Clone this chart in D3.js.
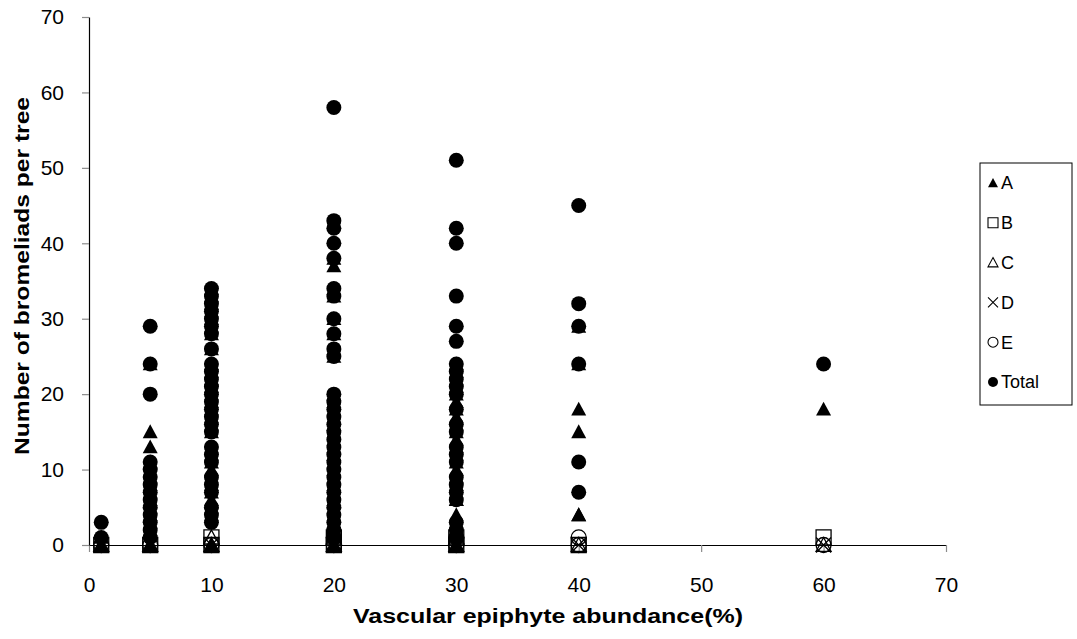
<!DOCTYPE html>
<html>
<head>
<meta charset="utf-8">
<script src="https://cdn.jsdelivr.net/npm/d3@7"></script>
<style>
  body { margin: 0; background: #fff; }
  svg { display: block; font-family: "Liberation Sans", Arial, sans-serif; }
</style>
</head>
<body>
<svg id="chart"></svg>
<script>
// abundance classes (x) and the counts per tree
var abundance = [1, 5, 10, 20, 30, 40, 60];

var totalCounts = [
  [3, 1],
  [29, 24, 20, 11, 10, 9, 8, 7, 6, 5, 4, 3, 2, 1],
  [34, 33, 32, 31, 30, 29, 28, 26, 24, 23, 22, 21, 20, 19, 18, 17, 16, 15, 13, 12, 11, 9, 8, 7, 5, 4, 3],
  [58, 43, 42, 40, 38, 34, 33, 30, 28, 26, 25, 20, 19, 18, 17, 16, 15, 14, 13, 12, 11, 10, 9, 8, 7, 6, 5, 4, 3, 2, 1],
  [51, 42, 40, 33, 29, 27, 24, 23, 22, 21, 20, 18, 16, 15, 13, 12, 11, 9, 8, 7, 6, 3, 2, 1],
  [45, 32, 29, 24, 11, 7],
  [24]
];
var countsA = [
  [0, 1],
  [15, 24, 13, 11, 7, 9, 8, 5, 6, 4, 4, 3, 2, 0],
  [34, 33, 32, 31, 30, 29, 28, 26, 24, 23, 22, 21, 20, 19, 18, 17, 16, 15, 10, 12, 11, 6, 8, 7, 5, 4, 0],
  [37, 20, 16, 12, 38, 34, 33, 30, 28, 26, 25, 20, 19, 18, 17, 16, 15, 14, 13, 12, 11, 10, 9, 8, 7, 6, 5, 4, 3, 2, 0],
  [19, 17, 14, 10, 6, 4, 24, 23, 22, 21, 20, 18, 16, 15, 13, 12, 11, 9, 8, 7, 6, 3, 2, 0],
  [18, 15, 29, 24, 4, 4],
  [18]
];
var countsB = [[0], [0], [0, 1], [0, 1], [0, 1], [0], [1]];
var countsC = [[0], [0], [0, 1], [0, 1], [0, 1], [0], [0]];
var countsD = [[0], [0], [0], [0], [0], [0], [0]];
var countsE = [[0], [0], [0], [0, 1], [0, 1], [0, 1], [0]];

var seriesNames = ["A", "B", "C", "D", "E", "Total"];
var xTicks = [0, 10, 20, 30, 40, 50, 60, 70];
var yTicks = [0, 10, 20, 30, 40, 50, 60, 70];

var width = 1077, height = 639;
var svg = d3.select("#chart").attr("width", width).attr("height", height);

var x = d3.scaleLinear().domain([0, 70]).range([89, 946]);
var y = d3.scaleLinear().domain([0, 70]).range([545, 17]);

// marker paths, all about the same size as in the original
function markerPath(name, s) {
  var h = s / 2;
  if (name === "A" || name === "C") return "M0," + (-h) + "L" + h + "," + (h * 0.85) + "L" + (-h) + "," + (h * 0.85) + "Z";
  if (name === "B") return "M" + (-h) + "," + (-h) + "H" + h + "V" + h + "H" + (-h) + "Z";
  if (name === "D") return "M" + (-h) + "," + (-h) + "L" + h + "," + h + "M" + h + "," + (-h) + "L" + (-h) + "," + h;
  return d3.symbol().type(d3.symbolCircle).size(Math.PI * h * h)();
}
function markerStyle(sel, name) {
  var filled = name === "A" || name === "Total";
  sel.attr("fill", filled ? "#000" : "none")
    .attr("stroke", "#000")
    .attr("stroke-width", filled ? 0 : 1.3);
}

// axes
var xAxis = d3.axisBottom(x).tickValues(xTicks).tickSize(7).tickSizeOuter(0).tickPadding(25);
var yAxis = d3.axisLeft(y).tickValues(yTicks).tickSize(7).tickSizeOuter(0).tickPadding(18);

var gx = svg.append("g").attr("transform", "translate(0," + y(0) + ")").call(xAxis);
var gy = svg.append("g").attr("transform", "translate(" + x(0) + ",0)").call(yAxis);
[gx, gy].forEach(function (g) {
  g.select(".domain").attr("stroke", "#000").attr("stroke-width", 1.2);
  g.selectAll(".tick line").attr("stroke", "#8c8c8c").attr("stroke-width", 1.2);
  g.selectAll(".tick text").attr("fill", "#000").style("font-size", "21px");
});

// points
var seriesData = {
  A: countsA, B: countsB, C: countsC, D: countsD, E: countsE, Total: totalCounts
};
seriesNames.forEach(function (name) {
  var pts = [];
  seriesData[name].forEach(function (vals, i) {
    vals.forEach(function (v) { pts.push({ x: abundance[i], y: v }); });
  });
  var g = svg.append("g").attr("class", "series-" + name);
  g.selectAll("path")
    .data(pts)
    .enter()
    .append("path")
    .attr("d", markerPath(name, 15))
    .attr("transform", function (d) { return "translate(" + x(d.x) + "," + y(d.y) + ")"; })
    .call(markerStyle, name);
});

// axis titles (the original is stretched a bit wide)
svg.append("text")
  .attr("x", 548).attr("y", 623)
  .attr("text-anchor", "middle")
  .attr("textLength", 390).attr("lengthAdjust", "spacingAndGlyphs")
  .style("font-size", "20px").style("font-weight", "bold")
  .text("Vascular epiphyte abundance(%)");

svg.append("text")
  .attr("transform", "translate(29,276) rotate(-90)")
  .attr("text-anchor", "middle")
  .attr("textLength", 358).attr("lengthAdjust", "spacingAndGlyphs")
  .style("font-size", "20px").style("font-weight", "bold")
  .text("Number of bromeliads per tree");

// legend
var legend = svg.append("g").attr("transform", "translate(980,163)");
legend.append("rect")
  .attr("width", 92).attr("height", 242)
  .attr("fill", "#fff").attr("stroke", "#000").attr("stroke-width", 1);
var items = legend.selectAll(".item")
  .data(seriesNames)
  .enter()
  .append("g")
  .attr("transform", function (d, i) { return "translate(13," + (20 + i * 39.8) + ")"; });
items.append("path")
  .attr("d", function (d) { return markerPath(d, 10); })
  .each(function (d) { d3.select(this).call(markerStyle, d); })
  .attr("stroke-width", function (d) { return (d === "A" || d === "Total") ? 0 : 1.1; });
items.append("text")
  .attr("x", 8).attr("dy", "0.36em")
  .style("font-size", "18px")
  .text(function (d) { return d; });
</script>
</body>
</html>
